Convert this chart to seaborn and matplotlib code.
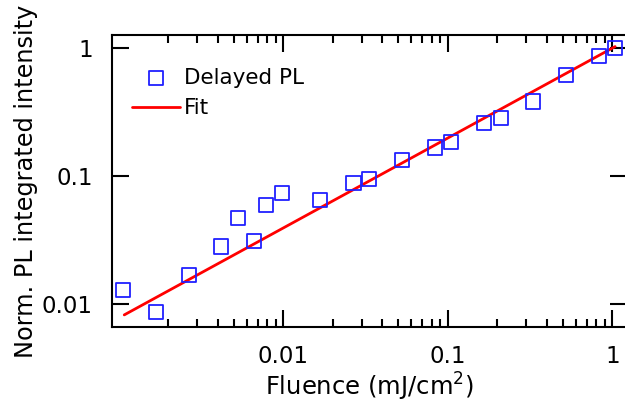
import matplotlib
matplotlib.use("Agg")
import matplotlib.pyplot as plt
import matplotlib.ticker as mticker
import numpy as np
import pandas as pd
import seaborn as sns

# Delayed PL integrated intensity vs excitation fluence
fluence = [0.00106, 0.00168, 0.00266, 0.00418, 0.00528, 0.00664, 0.00782,
           0.00982, 0.0167, 0.0267, 0.0332, 0.0527, 0.0836, 0.105, 0.166,
           0.210, 0.331, 0.523, 0.830, 1.04]
intensity = [0.0129, 0.00875, 0.0169, 0.0282, 0.047, 0.0312, 0.0597,
             0.0744, 0.0653, 0.0881, 0.0953, 0.134, 0.1675, 0.184, 0.259,
             0.284, 0.383, 0.618, 0.871, 1.0]

# Power-law fit end points
fit_x = [0.00108, 1.04]
fit_y = [0.00825, 1.03]

x_ticks = [0.01, 0.1, 1]
x_ticklabels = ["0.01", "0.1", "1"]
y_ticks = [0.01, 0.1, 1]
y_ticklabels = ["0.01", "0.1", "1"]

data = pd.DataFrame({"fluence": fluence, "intensity": intensity})
fit = pd.DataFrame({"fluence": fit_x, "intensity": fit_y})

sns.set_style("ticks")
plt.rcParams["font.family"] = ["DejaVu Sans"]
plt.rcParams["text.color"] = "black"
plt.rcParams["axes.labelcolor"] = "black"
plt.rcParams["xtick.labelcolor"] = "black"
plt.rcParams["ytick.labelcolor"] = "black"

fig = plt.figure(figsize=(6.25, 4.13), dpi=100)
ax = fig.add_axes([111.7 / 625, 1 - 327.3 / 413,
                   (627 - 111.7) / 625, (327.3 - 34.5) / 413])

sns.scatterplot(data=data, x="fluence", y="intensity", ax=ax, marker="s",
                s=105, facecolor="none", edgecolor="#2020ff", linewidth=1.3,
                label="Delayed PL", zorder=3)
sns.lineplot(data=fit, x="fluence", y="intensity", ax=ax, color="#ff0000",
             linewidth=2.0, label="Fit", zorder=2)

ax.set_xscale("log")
ax.set_yscale("log")
ax.set_xlim(9.06e-4, 1.228)
ax.set_ylim(0.0066, 1.28)

ax.xaxis.set_major_locator(mticker.FixedLocator(x_ticks))
ax.xaxis.set_major_formatter(mticker.FixedFormatter(x_ticklabels))
ax.xaxis.set_minor_locator(mticker.LogLocator(base=10, subs=np.arange(2, 10)))
ax.xaxis.set_minor_formatter(mticker.NullFormatter())
ax.yaxis.set_major_locator(mticker.FixedLocator(y_ticks))
ax.yaxis.set_major_formatter(mticker.FixedFormatter(y_ticklabels))
ax.yaxis.set_minor_locator(mticker.NullLocator())

for side in ["left", "right", "top", "bottom"]:
    ax.spines[side].set_visible(True)
    ax.spines[side].set_linewidth(1.5)
    ax.spines[side].set_color("black")

ax.tick_params(which="both", direction="in", top=True, right=True,
               color="black", width=1.5, labelsize=16.5, labelcolor="black")
ax.tick_params(which="major", length=12.2)
ax.tick_params(which="minor", length=5.8)
ax.tick_params(axis="y", which="major", pad=13.5)
ax.tick_params(axis="x", which="major", pad=12.5)

ax.set_xlabel("Fluence (mJ/cm$^2$)", fontsize=17.5, labelpad=2.5,
              color="black")
ax.set_ylabel("Norm. PL integrated intensity", fontsize=17.3, labelpad=3,
              color="black")

leg = ax.legend(loc="upper left", bbox_to_anchor=(131.7 / 625, 1 - 67.5 / 413),
                bbox_transform=fig.transFigure, frameon=False, fontsize=15.5,
                borderpad=0, borderaxespad=0, handlelength=2.23,
                handletextpad=0.2, labelspacing=0.5)
for txt in leg.get_texts():
    txt.set_color("black")

fig.savefig("out.png", dpi=100)
